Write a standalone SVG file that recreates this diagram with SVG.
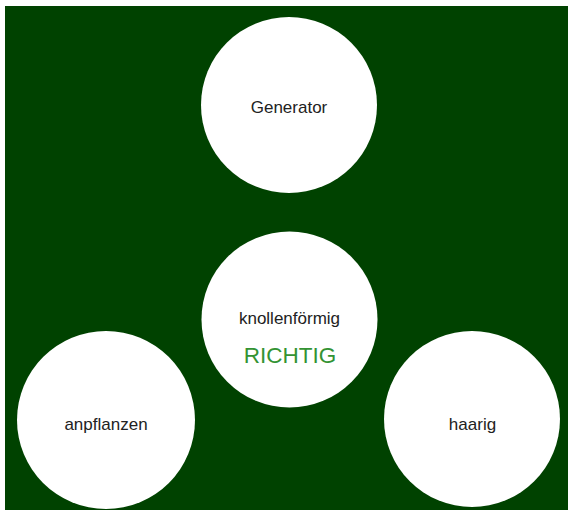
<svg xmlns="http://www.w3.org/2000/svg" width="568" height="514" viewBox="0 0 568 514">
<style>
.node{fill:#ffffff}
.lbl{font-family:"Liberation Sans",Arial,sans-serif;font-size:17px;fill:#222222;text-anchor:middle}
.ok{font-family:"Liberation Sans",Arial,sans-serif;font-size:22.5px;fill:#339333;text-anchor:middle}
</style>
<rect x="0" y="0" width="568" height="514" fill="#ffffff"/>
<rect x="5" y="6" width="563" height="504" fill="#004200"/>
<g id="connectors"></g>
<g id="generator"><circle class="node" cx="289" cy="105" r="88"/><text class="lbl" x="289" y="113">Generator</text></g>
<g id="knollenfoermig"><circle class="node" cx="289.5" cy="319.5" r="88"/><text class="lbl" x="289.5" y="324">knollenförmig</text><text class="ok" x="290" y="363">RICHTIG</text></g>
<g id="anpflanzen"><circle class="node" cx="106" cy="420" r="89"/><text class="lbl" x="106" y="430">anpflanzen</text></g>
<g id="haarig"><circle class="node" cx="472" cy="419" r="88"/><text class="lbl" x="472.5" y="430">haarig</text></g>
</svg>
